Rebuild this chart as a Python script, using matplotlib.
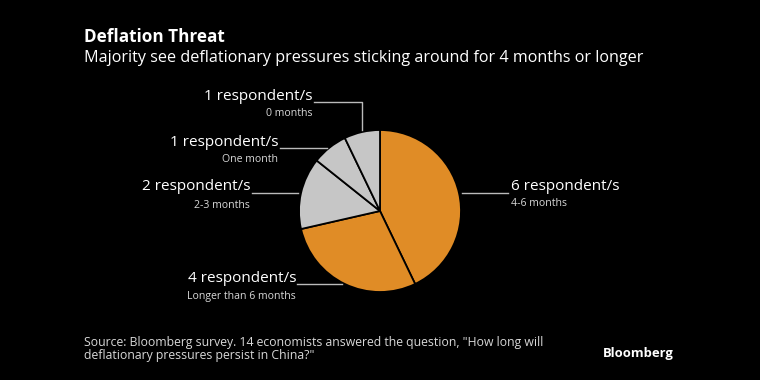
import matplotlib.pyplot as plt

plt.rcParams['font.family'] = ['Open Sans', 'DejaVu Sans']

# data
categories = ['4-6 months', 'Longer than 6 months', '2-3 months', 'One month', '0 months']
respondents = [6, 4, 2, 1, 1]
colors = ['#E08C26', '#E08C26', '#C6C6C6', '#C6C6C6', '#C6C6C6']

W, H = 760, 380
fig = plt.figure(figsize=(7.6, 3.8), dpi=100, facecolor='black')
ax = fig.add_axes([0, 0, 1, 1])
ax.set_facecolor('black')

def Y(py):
    return H - py

ax.pie(respondents, colors=colors, startangle=90, counterclock=False,
       center=(380, Y(211)), radius=81,
       wedgeprops=dict(edgecolor='black', linewidth=1.3))
ax.set_xlim(0, W)
ax.set_ylim(0, H)
ax.set_aspect('equal')
ax.axis('off')

line_kw = dict(color='#BBBBBB', lw=1)
# text anchor x, y, alignment, leader line points
labels = [
    (511, 186, 'left', [(462, 193), (508, 193)]),
    (296, 278, 'right', [(297, 284), (342, 284)]),
    (250, 187, 'right', [(252, 193), (298, 193)]),
    (278, 142, 'right', [(280, 148), (327, 148)]),
    (312, 96, 'right', [(314, 102), (362, 102), (362, 130)]),
]
for (tx, ty, ha, pts), cat, n in zip(labels, categories, respondents):
    ax.text(tx, Y(ty), f'{n} respondent/s', color='white', fontsize=11,
            ha=ha, va='center')
    ax.text(tx, Y(ty + 18), cat, color='#D8D8D8', fontsize=7.6,
            ha=ha, va='center')
    ax.plot([p[0] for p in pts], [Y(p[1]) for p in pts], **line_kw)

ax.text(84, Y(37), 'Deflation Threat', color='white', fontsize=12.3,
        fontweight='bold', ha='left', va='center')
ax.text(84, Y(58), 'Majority see deflationary pressures sticking around for 4 months or longer',
        color='white', fontsize=11.65, ha='left', va='center')
ax.text(84, Y(349), 'Source: Bloomberg survey. 14 economists answered the question, "How long will\n'
        'deflationary pressures persist in China?"', color='#D8D8D8', fontsize=8.8,
        ha='left', va='center', linespacing=1.05)
ax.text(603, Y(353), 'Bloomberg', color='white', fontsize=9.4, fontweight='bold',
        ha='left', va='center')

fig.savefig('out.png', dpi=100, facecolor='black')
